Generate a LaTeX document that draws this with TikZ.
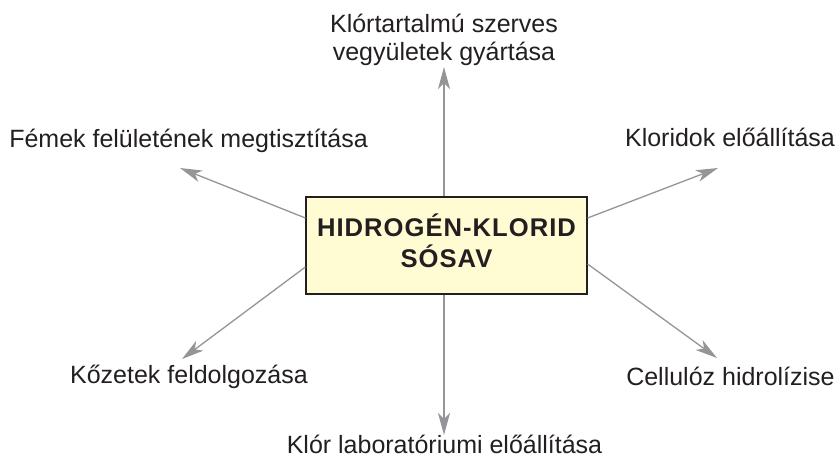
\documentclass[tikz,border=0pt]{standalone}
\usepackage{fontspec}
\setmainfont{Liberation Sans}
\newfontfamily\boxfont[LetterSpace=4]{Liberation Sans}
\usetikzlibrary{arrows.meta}
\definecolor{txt}{HTML}{231F20}
\definecolor{arr}{HTML}{939598}
\definecolor{boxfill}{HTML}{FFFBD3}
\begin{document}
\begin{tikzpicture}[x=1pt,y=1pt,
  lbl/.style={font=\fontsize{25}{28}\selectfont, text=txt, anchor=base, inner sep=0pt, align=center},
  conn/.style={draw=arr, line width=1.3pt, -{Stealth[length=22pt,width=12pt,inset=6pt]}},
  mainbox/.style={draw=txt, line width=1.2pt, fill=boxfill, minimum width=281pt, minimum height=97pt,
    inner sep=0pt, align=center, text=txt, text depth=10pt, font=\boxfont\bfseries\fontsize{25.6}{31}\selectfont}]
\useasboundingbox (0,0) rectangle (840,459);
\node[mainbox] (box) at (446.5,213.5) {HIDROGÉN-KLORID\\SÓSAV};
% labels
\node[lbl] (ltop) at (444,399) {Klórtartalmú szerves\\vegyületek gyártása};
\node[lbl] (lul) at (188.5,312) {Fémek felületének megtisztítása};
\node[lbl] (lur) at (730,313) {Kloridok előállítása};
\node[lbl] (lll) at (189,76) {Kőzetek feldolgozása};
\node[lbl] (llr) at (730.5,74) {Cellulóz hidrolízise};
\node[lbl] (lbot) at (444.5,6) {Klór laboratóriumi előállítása};
% arrow tips
\coordinate (ttop) at (444,392);
\coordinate (tbot) at (444,24);
\coordinate (tul) at (180,291);
\coordinate (tur) at (718,291);
\coordinate (tll) at (182,100);
\coordinate (tlr) at (717,101);
% connectors
\draw[conn] ([xshift=-2.5pt]box.north) -- (ttop);
\draw[conn] ([xshift=-2.5pt]box.south) -- (tbot);
\draw[conn] ([yshift=27.5pt]box.west) -- (tul);
\draw[conn] ([yshift=27.5pt]box.east) -- (tur);
\draw[conn] ([yshift=-21.5pt]box.west) -- (tll);
\draw[conn] ([yshift=-18.5pt]box.east) -- (tlr);
\end{tikzpicture}
\end{document}
